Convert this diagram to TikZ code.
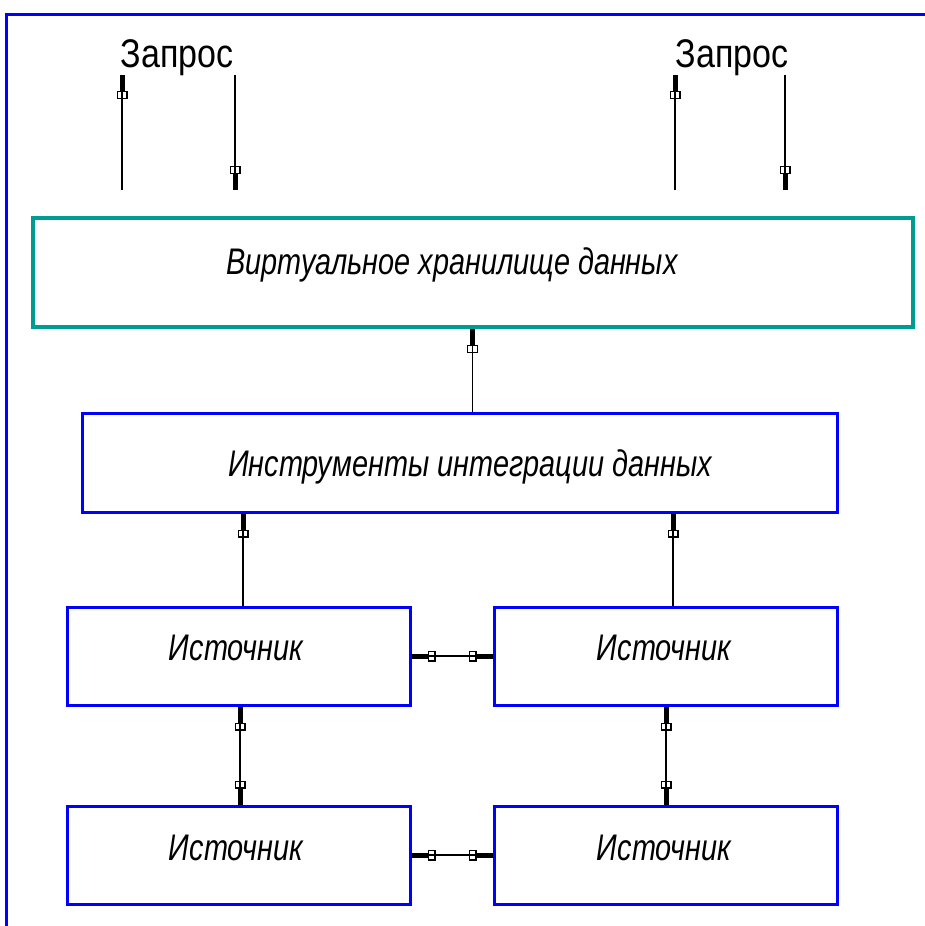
\documentclass[tikz,border=0pt]{standalone}
\usepackage{fontspec}
\setmainfont{Liberation Sans}
\newfontfamily\gostfont{Liberation Sans}[FakeStretch=0.78]
\newfontfamily\gostupright{Liberation Sans}[FakeStretch=0.85]
\usetikzlibrary{arrows.meta}
\definecolor{frameblue}{RGB}{0,0,255}
\definecolor{storeteal}{RGB}{0,155,145}
\tikzset{
  x=1pt, y=-1pt,
  bluebox/.style={draw=frameblue, line width=3pt, fill=white, inner sep=0pt},
  tealbox/.style={bluebox, draw=storeteal, line width=4pt},
  boxtext/.style={inner sep=0pt, font=\gostfont\itshape\fontsize{37}{42}\selectfont},
  qlabel/.style={inner sep=0pt, font=\gostupright\fontsize{40}{44}\selectfont},
  gosttip/.tip={Rectangle[open,length=8pt,width=11pt,line width=1.2pt,sep=0pt] Rectangle[length=16pt,width=5pt,sep=0pt]},
  link/.style={line width=1.4pt, -{gosttip}},
  dlink/.style={line width=1.4pt, {gosttip}-{gosttip}}
}
\begin{document}
\begin{tikzpicture}
\useasboundingbox (0,0) rectangle (924,926);
% outer sheet frame
\draw[frameblue, line width=3pt] (6,930) -- (6,14) -- (930,14);

% boxes
\node[tealbox, minimum width=880pt, minimum height=109pt] (store) at (473,272.5) {};
\node[boxtext] (storetxt) at (452,265) {Виртуальное хранилище данных};
\node[bluebox, minimum width=755pt, minimum height=99pt] (integ) at (459.5,462.5) {};
\node[boxtext] (integtxt) at (470,467) {Инструменты интеграции данных};
\node[bluebox, minimum width=343pt, minimum height=98pt] (s1) at (238.5,656) {};
\node[bluebox, minimum width=343pt, minimum height=98pt] (s2) at (665.5,656) {};
\node[bluebox, minimum width=343pt, minimum height=98pt] (s3) at (238.5,855) {};
\node[bluebox, minimum width=343pt, minimum height=98pt] (s4) at (665.5,855) {};
\foreach \n/\px/\py in {s1/236/648, s2/664/648, s3/236/848, s4/664/848}
  \node[boxtext] (\n txt) at (\px,\py) {Источник};

% request labels and their arrows
\node[qlabel] (q1) at (177,58) {Запрос};
\node[qlabel] (q2) at (732,58) {Запрос};
\coordinate (a1b) at (122,190); \coordinate (a1t) at (122,75);
\coordinate (b1t) at (235,75);  \coordinate (b1b) at (235,190);
\coordinate (a2b) at (675,190); \coordinate (a2t) at (675,75);
\coordinate (b2t) at (785,75);  \coordinate (b2b) at (785,190);
\draw[link] (a1b) -- (a1t);
\draw[link] (b1t) -- (b1b);
\draw[link] (a2b) -- (a2t);
\draw[link] (b2t) -- (b2b);

% data flow upwards
\draw[link] ([xshift=13pt]integ.north) -- ([xshift=13pt]integ.north |- store.south);
\draw[link] ([xshift=4.5pt]s1.north) -- ([xshift=4.5pt]s1.north |- integ.south);
\draw[link] ([xshift=7.5pt]s2.north) -- ([xshift=7.5pt]s2.north |- integ.south);

% exchange between sources
\draw[dlink] (s1.east) -- (s2.west);
\draw[dlink] (s3.east) -- (s4.west);
\draw[dlink] ([xshift=1.5pt]s1.south) -- ([xshift=1.5pt]s3.north);
\draw[dlink] ([xshift=0.5pt]s2.south) -- ([xshift=0.5pt]s4.north);
\end{tikzpicture}
\end{document}
